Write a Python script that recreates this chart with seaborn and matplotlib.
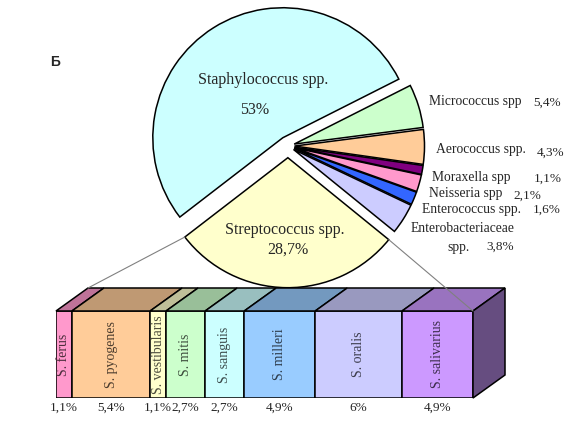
import matplotlib
matplotlib.use("Agg")
import numpy as np
import matplotlib.pyplot as plt
import seaborn as sns
from matplotlib.colors import to_rgb
from matplotlib.patches import Polygon, ConnectionPatch

# %%
# main pie, counterclockwise starting from Staphylococcus
pie_labels = ["Staphylococcus spp.", "Streptococcus spp.", "Enterobacteriaceae", "Enterococcus spp.",
              "Neisseria spp", "Moraxella spp", "Aerococcus spp.", "Micrococcus spp"]
pie_values = [53, 28.7, 3.8, 1.6, 2.1, 1.1, 4.3, 5.4]
pie_pct = ["53%", "28,7%", "3,8%", "1,6%", "2,1%", "1,1%", "4,3%", "5,4%"]
pie_colors = ["#CCFFFF", "#FFFFCC", "#CCCCFF", "#3366FF", "#FF99CC", "#800080", "#FFCC99", "#CCFFCC"]

# breakdown of Streptococcus spp.
strep_labels = ["S. ferus", "S. pyogenes", "S. vestibularis", "S. mitis",
                "S. sanguis", "S. milleri", "S. oralis", "S. salivarius"]
strep_values = [1.1, 5.4, 1.1, 2.7, 2.7, 4.9, 6.0, 4.9]
strep_pct = ["1,1%", "5,4%", "1,1%", "2,7%", "2,7%", "4,9%", "6%", "4,9%"]
strep_colors = ["#FF99CC", "#FFCC99", "#FFFFCC", "#CCFFCC", "#CCFFFF", "#99CCFF", "#CCCCFF", "#CC99FF"]

# %%
sns.set_theme(style="white")
plt.rcParams['font.family'] = ['Liberation Serif', 'DejaVu Serif']

W, H = 576, 432
CX, CY, R = 288, 146, 130


def px(x, y):
    return ((x - CX) / R, (CY - y) / R)


def shade(c, f):
    return tuple(np.array(to_rgb(c)) * f)


fig = plt.figure(figsize=(W / 100, H / 100), dpi=100)
ax = fig.add_axes([0, 0, 1, 1])
explode = [0.075, 0.09, 0.05, 0.05, 0.05, 0.05, 0.05, 0.05]
wedges, _ = ax.pie(pie_values, colors=pie_colors, startangle=26.8, counterclock=True,
                   explode=explode, wedgeprops=dict(edgecolor='black', linewidth=1.1))
ax.set_xlim(-CX / R, (W - CX) / R)
ax.set_ylim(-(H - CY) / R, CY / R)
ax.set_aspect('equal')
ax.axis('off')

ax.text(*px(55, 62), "Б", family=['Liberation Sans', 'DejaVu Sans'], fontweight='bold',
        fontsize=10, ha='center', va='center')

# labels inside the two big slices
ax.text(*px(263, 80), pie_labels[0], fontsize=11.5, ha='center', va='center')
ax.text(*px(255, 110), pie_pct[0], fontsize=11.5, ha='center', va='center')
ax.text(*px(285, 230), pie_labels[1], fontsize=11.5, ha='center', va='center')
ax.text(*px(288, 250), pie_pct[1], fontsize=11.5, ha='center', va='center')

# labels for the small slices, on the right
name_pos = {7: (429, 101), 6: (436, 150), 5: (432, 178), 4: (429, 193), 3: (422, 209), 2: (411, 228)}
pct_pos = {7: (547, 103), 6: (551, 153), 5: (548, 179), 4: (527, 196), 3: (547, 210), 2: (500, 247)}
for i in name_pos:
    ax.text(*px(*name_pos[i]), pie_labels[i], fontsize=9.8, ha='left', va='center')
    ax.text(*px(*pct_pos[i]), pie_pct[i], fontsize=9.5, ha='center', va='center')
ax.text(*px(458, 247), "spp.", fontsize=9.8, ha='center', va='center')

# %%
# stacked 3D-looking bar for Streptococcus
bax = fig.add_axes([56 / W, (H - 398) / H, 417 / W, 87 / H])
total = sum(strep_values)
lefts = np.concatenate([[0], np.cumsum(strep_values)[:-1]])
bax.barh([0.5] * len(strep_values), strep_values, left=lefts, height=1,
         color=strep_colors, edgecolor='black', linewidth=1.1)
bax.set_xlim(0, total)
bax.set_ylim(0, 1)
bax.axis('off')

ddx = 32 / 417 * total
ddy = 23 / 87
for l, w, c in zip(lefts, strep_values, strep_colors):
    top = [(l, 1), (l + w, 1), (l + w + ddx, 1 + ddy), (l + ddx, 1 + ddy)]
    bax.add_patch(Polygon(top, closed=True, facecolor=shade(c, 0.75), edgecolor='black',
                          linewidth=1.1, clip_on=False))
side = [(total, 0), (total, 1), (total + ddx, 1 + ddy), (total + ddx, ddy)]
bax.add_patch(Polygon(side, closed=True, facecolor=shade(strep_colors[-1], 0.5),
                      edgecolor='black', linewidth=1.1, clip_on=False))

for l, w, lab, pct, c in zip(lefts, strep_values, strep_labels, strep_pct, strep_colors):
    bax.text(l + w / 2, 0.5, lab, rotation=90, fontsize=10, ha='center', va='center',
             color=shade(c, 0.3))
    bax.text(l + w / 2, -0.11, pct, fontsize=9.5, ha='center', va='center')

# connector lines from Streptococcus slice to the bar
strep = wedges[1]
cx, cy = strep.center
t1, t2 = np.radians(strep.theta1), np.radians(strep.theta2)
p_left = (cx + strep.r * np.cos(t1), cy + strep.r * np.sin(t1))
p_right = (cx + strep.r * np.cos(t2), cy + strep.r * np.sin(t2))
for pa, pb in [(p_left, (ddx, 1 + ddy)), (p_right, (total, 1))]:
    con = ConnectionPatch(xyA=pa, coordsA=ax.transData, xyB=pb, coordsB=bax.transData,
                          color='#808080', linewidth=0.8, zorder=10)
    fig.add_artist(con)

fig.savefig("out.png", dpi=100)
